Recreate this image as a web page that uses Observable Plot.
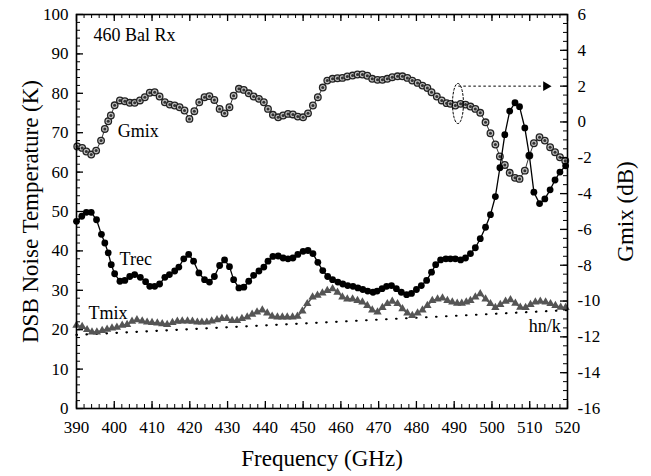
<!DOCTYPE html>
<html><head><meta charset="utf-8">
<script src="https://cdn.jsdelivr.net/npm/d3@7"></script>
<script src="https://cdn.jsdelivr.net/npm/@observablehq/plot@0.6"></script>
<style>html,body{margin:0;padding:0;background:#fff} svg text{font-family:'Liberation Serif','Times New Roman',serif !important}</style>
</head><body><div id="chart"></div>
<script>
// ---------- data ----------
const freqTrec = [390,391.4,392.6,393.9,395.3,396.6,397.5,398.4,399.2,400.1,401.5,402.8,404.1,405.4,406.9,408.3,409.4,410.7,412,413.4,414.6,416,417.1,418.4,419.7,421,422.4,423.9,425.2,426.5,427.9,429.2,430.5,431.6,433,434.3,435.6,436.9,438.3,439.6,440.7,442,443.4,444.7,446,447.3,448.6,450,451.3,452.6,453.9,455.2,456.5,457.8,459.2,460.5,461.8,463.2,464.5,465.8,467.1,468.5,469.6,470.9,472.1,473.4,474.7,476,477.4,478.7,480,481.3,482.7,484,485.1,486.4,487.8,489,490.3,491.7,493,494.3,495.6,496.9,498.3,499.6,500.9,502.1,503.4,504.7,506.1,507.3,508.7,509.9,511.1,512.6,514,515.4,516.7,518,519.5];
const trec = [47.5,48.8,49.8,49.8,47.9,44.2,42,39.5,36.5,34.2,32.3,32.5,33.5,34,33.3,32.2,31,31,31.6,33.3,34,34.9,35.9,38,39.1,37.4,34.4,32.7,32.1,33.5,36.3,37.7,36,32.7,30.6,30.8,32.3,33.8,34.9,35.9,37.4,38.6,38.7,38.2,38,38.2,39.1,39.9,40.1,39.3,37.1,35,33.5,32.7,32.1,31.6,31.2,31,30.6,30.2,29.8,29.5,29.8,30.4,31,31.2,30.4,29.5,28.9,29.2,30.2,31.2,32.5,34.6,36.5,37.7,38,38,38,37.7,38.2,39.3,40.8,43.1,46,49.2,53.8,61.1,69.5,75.5,77.6,76.6,71.2,64.2,54.9,52,53.2,55.5,58,60,61.6];

const freqGmix = [390.2,391.5,392.6,393.9,395.2,396.5,397.5,398.4,399.1,400.1,401.5,402.8,404.1,405.4,406.8,408.1,409.4,410.7,412,413.4,414.7,416,417.3,418.6,419.9,421.2,422.5,423.9,425.2,426.5,427.9,429.2,430.5,431.6,433,434.3,435.6,436.9,438.3,439.6,440.7,442,443.4,444.7,446,447.3,448.6,450,451.3,452.6,453.9,455.2,456.4,457.8,459.1,460.4,461.7,463.1,464.4,465.7,467,468.3,469.7,471,472.3,473.6,475,476.3,477.6,478.9,480.3,481.6,482.9,484,485.4,486.7,488,489,490.3,491.7,493,494.3,495.6,496.9,498.3,499.6,500.9,502.1,503.4,504.7,506.1,507.3,508.7,509.9,511.1,512.6,514,515.4,516.7,518,519.4];
const gmix = [-1.37,-1.45,-1.65,-1.82,-1.6,-1.04,-0.39,0.04,0.36,0.93,1.2,1.16,1.07,1.07,1.2,1.38,1.63,1.66,1.42,1.1,0.97,0.92,0.82,0.64,0.17,0.6,1.1,1.38,1.44,1.23,0.73,0.48,0.82,1.47,1.85,1.79,1.6,1.42,1.29,1.1,0.73,0.4,0.26,0.36,0.45,0.42,0.3,0.26,0.48,0.92,1.38,1.92,2.31,2.41,2.44,2.46,2.54,2.59,2.65,2.65,2.58,2.41,2.35,2.35,2.41,2.5,2.55,2.55,2.46,2.31,2.18,2.03,1.9,1.66,1.42,1.2,1.05,1.01,0.92,1.01,0.97,0.86,0.73,0.51,-0.02,-0.63,-1.26,-1.93,-2.4,-2.84,-3.12,-3.18,-2.72,-1.88,-1.19,-0.85,-1.04,-1.41,-1.69,-1.97,-2.16];

const freqTmix = [390,391.5,392.8,394.1,395.4,396.8,398.1,399.4,400.7,402.1,403.4,404.7,406,407.4,408.7,410,411.4,412.7,414,415.4,416.7,418,419.4,420.7,422,423.2,424.5,425.8,427.2,428.5,429.8,431.2,432.5,433.8,435.2,436.5,437.8,439.2,440.5,441.8,443.2,444.5,445.8,447.2,448.5,449.8,451.1,452.5,453.8,455.1,456.4,457.8,459.1,460.4,461.7,463.1,464.4,465.7,467,468.3,469.7,471,472.3,473.6,475,476.3,477.6,478.9,480.3,481.6,482.9,484.2,485.6,486.9,488.2,489.5,490.8,492,493.2,494.3,495.6,496.9,498.3,499.6,500.9,502.2,503.6,504.9,506.2,507.5,508.9,510.2,511.5,512.8,514.2,515.5,516.8,518.2,519.5];
const tmix = [21.1,20.8,20,19.4,19.4,19.8,20.1,20.4,20.6,21.1,21.3,22.1,22.5,22.2,21.9,21.8,21.7,21.5,21.3,21.8,22.1,22.2,22.2,22.1,21.9,21.9,21.9,22.2,22.5,22.8,22.8,22.3,22.3,22.8,23.2,23.9,24.5,25,24.2,23.4,23.2,23.2,23.2,23.2,23.4,24.7,26.6,28.3,28.7,29.3,29.9,30.4,29.5,28.3,27.8,27.8,27.4,27,26.1,25,24.5,25.6,26.6,27.2,26.6,25.3,24.2,23.6,24.2,25,26.1,27.4,27.8,28,27.4,27,26.7,26.7,27,27.4,28.3,29.1,27.8,26.6,25.6,26.4,27.2,27.6,26.7,25.7,25.6,26.4,27,27.2,27,26.6,26.1,25.7,25.6];

const freqHnk = [390, 520];
const hnk = [18.7, 24.96];

const xTickLabels = [390,400,410,420,430,440,450,460,470,480,490,500,510,520];
const yTickLabels = [0,10,20,30,40,50,60,70,80,90,100];
const gTickLabels = [-16,-14,-12,-10,-8,-6,-4,-2,0,2,4,6];

// ---------- helpers ----------
const G2Y = g => (g + 16) / 22 * 100;          // dB -> left-axis units
const Y2G = y => Math.round(y * 22 / 100 - 16);
const zip = (xs, ys) => xs.map((f, i) => ({f, v: ys[i]}));
const trecData = zip(freqTrec, trec);
const gmixData = zip(freqGmix, gmix).map(d => ({f: d.f, v: G2Y(d.v)}));
const tmixData = zip(freqTmix, tmix);
const hnkData = zip(freqHnk, hnk);

const W = 651, H = 476, mL = 76, mR = 84, mT = 14, mB = 68;
const PW = W - mL - mR, PH = H - mT - mB;

const xMinor = d3.range(390, 520.01, 2);
const yMinor = d3.range(0, 100.01, 2);
const gMinor = d3.range(-16, 6.01, 0.5).map(G2Y);

// annotation ellipse (dotted) around Gmix near 491 GHz
const ell = {cx: 491.0, cy: 1.03, rx: 1.45, ry: 1.12};
const ellData = d3.range(0, 361, 8).map(a => ({
  f: ell.cx + ell.rx * Math.cos(a * Math.PI / 180),
  v: G2Y(ell.cy + ell.ry * Math.sin(a * Math.PI / 180))
}));
const arrow = [{x1: 491.1, x2: 514.3, g: 2}];

const serif = "Liberation Serif";
const T = {fontFamily: serif};

const chart = Plot.plot({
  width: W, height: H,
  marginLeft: mL, marginRight: mR, marginTop: mT, marginBottom: mB,
  x: {domain: [390, 520]},
  y: {domain: [0, 100]},
  style: {fontFamily: serif, fontSize: "17px", background: "#fff", color: "#000"},
  marks: [
    // hν/k dotted line
    Plot.line(hnkData, {x: "f", y: "v", stroke: "#000", strokeWidth: 2.2, strokeDasharray: "0.5,9.5", strokeLinecap: "round"}),
    // Gmix
    Plot.line(gmixData, {x: "f", y: "v", stroke: "#333", strokeWidth: 1}),
    Plot.dot(gmixData, {x: "f", y: "v", r: 3.3, fill: "#bdbdbd", stroke: "#222", strokeWidth: 1.3}),
    Plot.dot(gmixData, {x: "f", y: "v", r: 1.5, fill: "#333"}),
    // Tmix
    Plot.line(tmixData, {x: "f", y: "v", stroke: "#555", strokeWidth: 1.5}),
    Plot.dot(tmixData, {x: "f", y: "v", symbol: "triangle", r: 3.1, fill: "#555"}),
    // Trec
    Plot.line(trecData, {x: "f", y: "v", stroke: "#000", strokeWidth: 1.3}),
    Plot.dot(trecData, {x: "f", y: "v", r: 3.4, fill: "#000"}),
    // annotation: ellipse + arrow to the right axis
    Plot.line(ellData, {x: "f", y: "v", stroke: "#000", strokeWidth: 1, strokeDasharray: "2,2"}),
    Plot.link(arrow, {x1: "x1", x2: "x2", y1: d => G2Y(d.g), y2: d => G2Y(d.g), stroke: "#000", strokeWidth: 1, strokeDasharray: "2.5,2.5"}),
    Plot.dot(arrow, {x: "x2", y: d => G2Y(d.g), symbol: "triangle", rotate: 90, r: 3.6, fill: "#000"}),
    // labels
    Plot.text(["460 Bal Rx"], {...T, x: 394.5, y: 93.4, textAnchor: "start", lineAnchor: "bottom", fontSize: 18}),
    Plot.text(["Gmix"], {...T, x: 400.9, y: 69.0, textAnchor: "start", lineAnchor: "bottom", fontSize: 18}),
    Plot.text(["Trec"], {...T, x: 401.4, y: 36.3, textAnchor: "start", lineAnchor: "bottom", fontSize: 18}),
    Plot.text(["Tmix"], {...T, x: 393.2, y: 22.8, textAnchor: "start", lineAnchor: "bottom", fontSize: 18}),
    Plot.text(["hn/k"], {...T, x: 518.2, y: 19.3, textAnchor: "end", lineAnchor: "bottom", fontSize: 18}),
    // inward tick marks
    Plot.tickX(xMinor, {x: d => d, insetTop: PH - 4, stroke: "#000"}),
    Plot.tickX(xTickLabels, {x: d => d, insetTop: PH - 7, stroke: "#000", strokeWidth: 1.3}),
    Plot.tickX(xMinor, {x: d => d, insetBottom: PH - 4, stroke: "#000"}),
    Plot.tickX(xTickLabels, {x: d => d, insetBottom: PH - 7, stroke: "#000", strokeWidth: 1.3}),
    Plot.tickY(yMinor, {y: d => d, insetRight: PW - 4, stroke: "#000"}),
    Plot.tickY(yTickLabels, {y: d => d, insetRight: PW - 7, stroke: "#000", strokeWidth: 1.3}),
    Plot.tickY(gMinor, {y: d => d, insetLeft: PW - 4, stroke: "#000"}),
    Plot.tickY(gTickLabels.map(G2Y), {y: d => d, insetLeft: PW - 7, stroke: "#000", strokeWidth: 1.3}),
    // axes (labels only)
    Plot.axisX(xTickLabels, {...T, anchor: "bottom", tickSize: 0, tickPadding: 12, label: null, fontSize: 17}),
    Plot.axisY(yTickLabels, {...T, anchor: "left", tickSize: 0, tickPadding: 8, label: null, fontSize: 17}),
    Plot.axisY(gTickLabels.map(G2Y), {...T, anchor: "right", tickSize: 0, tickPadding: 10, label: null, fontSize: 17, tickFormat: d => `${Y2G(d)}`}),
    // axis titles
    Plot.text(["DSB Noise Temperature (K)"], {...T, frameAnchor: "left", dx: -46, rotate: -90, textAnchor: "middle", lineAnchor: "middle", fontSize: 23}),
    Plot.text(["Gmix (dB)"], {...T, frameAnchor: "right", dx: 58, rotate: -90, textAnchor: "middle", lineAnchor: "middle", fontSize: 23}),
    Plot.text(["Frequency (GHz)"], {...T, frameAnchor: "bottom", dy: 50, textAnchor: "middle", lineAnchor: "middle", fontSize: 23}),
    Plot.frame({stroke: "#000", strokeWidth: 1.6})
  ]
});
document.getElementById("chart").appendChild(chart);
</script>
</body></html>
